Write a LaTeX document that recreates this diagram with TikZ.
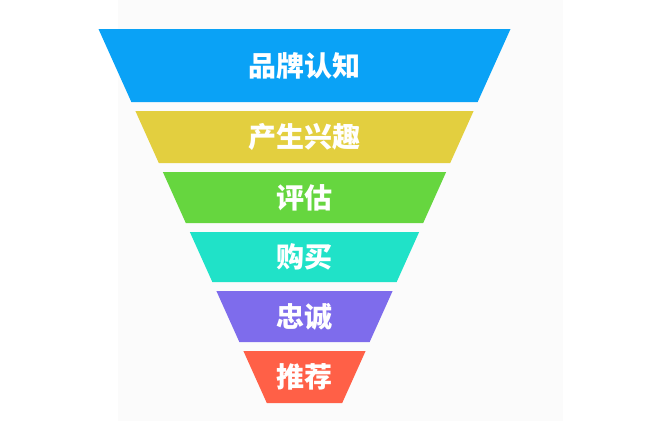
\documentclass[tikz,border=0pt]{standalone}
\usepackage{fontspec}
\newfontfamily\cjk{Noto Sans CJK SC}
\definecolor{awareblue}{HTML}{0AA2F6}
\definecolor{interestyellow}{HTML}{E3CF3F}
\definecolor{evalgreen}{HTML}{66D63F}
\definecolor{buycyan}{HTML}{20E2C8}
\definecolor{loyalpurple}{HTML}{7E6CEC}
\definecolor{referred}{HTML}{FF6047}

\begin{document}
\begin{tikzpicture}[x=0.75pt, y=-0.75pt,
  layer/.style={text=white, font=\cjk\bfseries\fontsize{21}{25}\selectfont}
]
  \useasboundingbox (0,0) rectangle (645,421);
  % faint backdrop
  \fill[black!1.5] (118,0) rectangle (563,421);
  % funnel layers: top/bottom y, colour, name, label
  \foreach \ya/\yb/\col/\lay/\txt in {
      29/102/awareblue/aware/品牌认知,
      111/163/interestyellow/interest/产生兴趣,
      172/223/evalgreen/eval/评估,
      232/282/buycyan/buy/购买,
      291/342/loyalpurple/loyal/忠诚,
      351/403/referred/refer/推荐}{
    \fill[\col] ({98.5+0.45*(\ya-29)},\ya) -- ({510.5-0.45*(\ya-29)},\ya)
      -- ({510.5-0.45*(\yb-29)},\yb) -- ({98.5+0.45*(\yb-29)},\yb) -- cycle;
    \node[layer] (\lay) at (304.5,{(\ya+\yb)/2}) {\txt};
  }
\end{tikzpicture}
\end{document}
